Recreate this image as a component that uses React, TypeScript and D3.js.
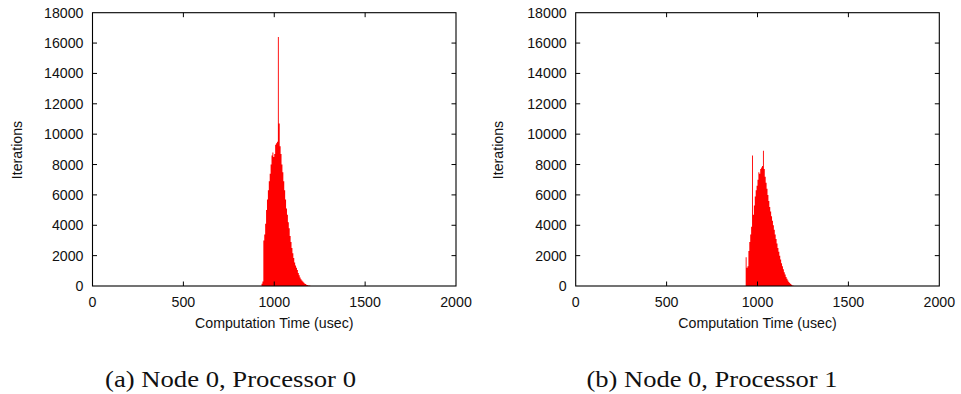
import React from "react";
import * as d3 from "d3";

// ---- data ----
const binStart = 925;
const binWidth = 5;
const proc0Counts = [
  0, 150, 300, 3000, 3400, 4100, 5000, 5700, 6300, 6900, 7400, 8000, 8600, 8800, 8500, 8700,
  9300, 9400, 9500, 16400, 10700, 9200, 8700, 8000, 7500, 6900, 6300, 5700, 5100, 4700, 4200,
  3800, 3300, 2900, 2500, 2150, 1850, 1550, 1350, 1200, 1050, 850, 700, 560, 450, 360, 290,
  230, 170, 125, 90, 60, 40, 25, 12, 5, 0,
];
const proc1Counts = [
  0, 0, 1900, 1200, 1300, 2300, 2900, 3400, 3900, 8600, 4700, 5300, 5900, 6300, 6600, 7000,
  7500, 7400, 7700, 7800, 7900, 8900, 7700, 7200, 6800, 6400, 6000, 5600, 5200, 4900, 4600,
  4300, 4000, 3700, 3400, 3100, 2800, 2500, 2250, 2000, 1750, 1500, 1300, 1100, 900, 750, 600,
  470, 360, 270, 190, 130, 80, 40, 15, 0, 0,
];
const xTicks = [0, 500, 1000, 1500, 2000];
const yTicks = [0, 2000, 4000, 6000, 8000, 10000, 12000, 14000, 16000, 18000];
const captions = ["(a) Node 0, Processor 0", "(b) Node 0, Processor 1"];
const xLabel = "Computation Time (usec)";
const yLabel = "Iterations";

const W = 961;
const H = 394;
const top = 12.7;
const bottom = 286;
const panels = [
  { left: 92.5, right: 456, counts: proc0Counts, caption: captions[0], captionX: 230.5, yLabelX: 16.7 },
  { left: 575.7, right: 939.3, counts: proc1Counts, caption: captions[1], captionX: 712, yLabelX: 498.3 },
];
const tickLen = 4.5;
const sans = "'Liberation Sans', Arial, Helvetica, sans-serif";

function Panel({ p }: { p: (typeof panels)[number] }) {
  const x = d3.scaleLinear().domain([0, 2000]).range([p.left, p.right]);
  const y = d3.scaleLinear().domain([0, 18000]).range([bottom, top]);
  const pts: [number, number][] = p.counts.map((c, i) => [binStart + i * binWidth, c]);
  pts.push([binStart + p.counts.length * binWidth, 0]);
  const area = d3
    .area<[number, number]>()
    .x((d) => x(d[0]))
    .y0(y(0))
    .y1((d) => y(d[1]))
    .curve(d3.curveStepAfter);
  const cx = (p.left + p.right) / 2;
  return (
    <g>
      <path d={area(pts) || ""} fill="#ff0000" stroke="none" />
      <rect x={p.left} y={top} width={p.right - p.left} height={bottom - top} fill="none" stroke="#000" strokeWidth={1.1} />
      {xTicks.map((t) => (
        <g key={"x" + t}>
          {t > 0 && t < 2000 && (
            <>
              <line x1={x(t)} x2={x(t)} y1={bottom} y2={bottom - tickLen} stroke="#000" />
              <line x1={x(t)} x2={x(t)} y1={top} y2={top + tickLen} stroke="#000" />
            </>
          )}
          <text x={x(t)} y={306.5} textAnchor="middle" fontFamily={sans} fontSize={14.2} fill="#111">
            {t}
          </text>
        </g>
      ))}
      {yTicks.map((t) => (
        <g key={"y" + t}>
          {t > 0 && t < 18000 && (
            <>
              <line x1={p.left} x2={p.left + tickLen} y1={y(t)} y2={y(t)} stroke="#000" />
              <line x1={p.right} x2={p.right - tickLen} y1={y(t)} y2={y(t)} stroke="#000" />
            </>
          )}
          <text x={p.left - 9} y={y(t) + 5} textAnchor="end" fontFamily={sans} fontSize={14.2} fill="#111">
            {t}
          </text>
        </g>
      ))}
      <text x={cx} y={328} textAnchor="middle" fontFamily={sans} fontSize={14.2} fill="#111">
        {xLabel}
      </text>
      <text
        transform={`translate(${p.yLabelX + 5},150) rotate(-90)`}
        textAnchor="middle"
        fontFamily={sans}
        fontSize={14.2}
        fill="#111"
      >
        {yLabel}
      </text>
      <text
        x={p.captionX}
        y={386.5}
        textAnchor="middle"
        fontFamily="'Liberation Serif', 'DejaVu Serif', serif"
        fontSize={24}
        textLength={251}
        lengthAdjust="spacingAndGlyphs"
        fill="#111"
      >
        {p.caption}
      </text>
    </g>
  );
}

export default function App() {
  return (
    <svg width={W} height={H} style={{ position: "absolute", left: 0, top: 0, background: "#fff" }}>
      <rect width={W} height={H} fill="#fff" />
      {panels.map((p, i) => (
        <Panel key={i} p={p} />
      ))}
    </svg>
  );
}
